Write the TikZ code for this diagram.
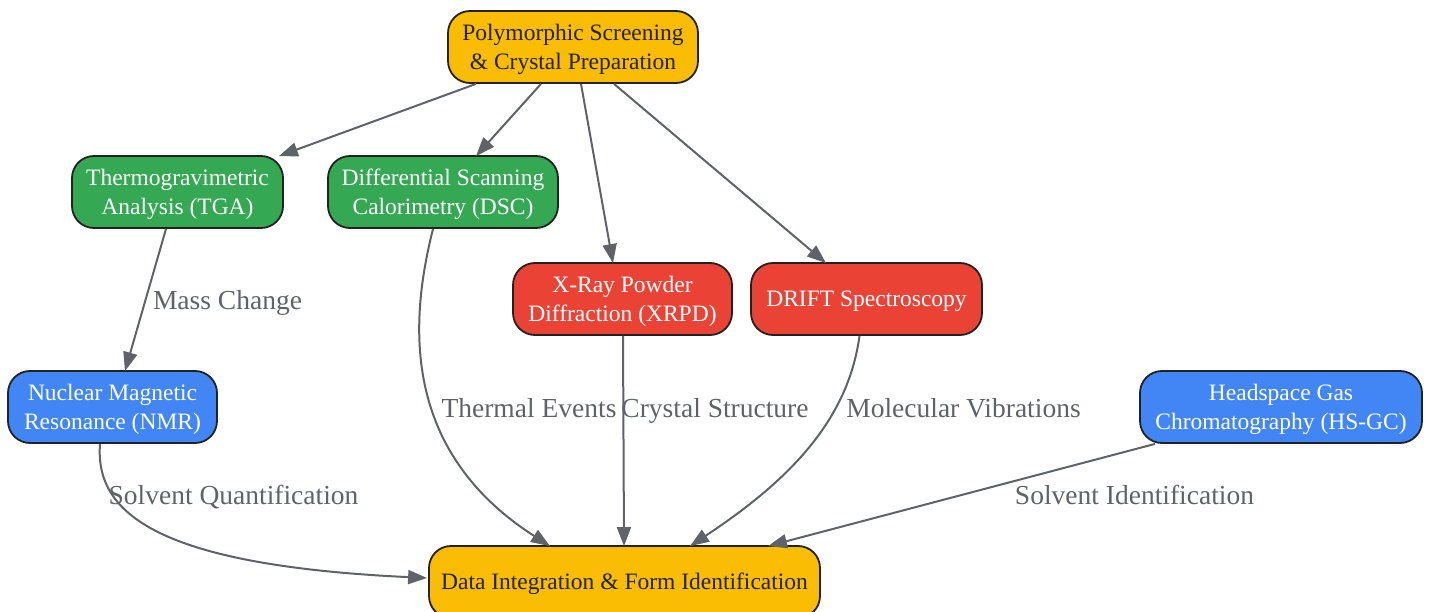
\documentclass[tikz,border=0pt]{standalone}
\usepackage{fontspec}
\setmainfont{Liberation Serif}
\usetikzlibrary{arrows.meta,calc}
\definecolor{gyellow}{HTML}{FBBC04}
\definecolor{ggreen}{HTML}{34A853}
\definecolor{gred}{HTML}{EA4335}
\definecolor{gblue}{HTML}{4285F4}
\definecolor{edgegray}{HTML}{5F6368}
\definecolor{labelgray}{HTML}{5F6368}
\definecolor{bordercol}{HTML}{222222}
\newcommand\tstrut{\rule[-5pt]{0pt}{26pt}}
\newcommand\bstrut{\rule[-5pt]{0pt}{0pt}}
\begin{document}
\begin{tikzpicture}[x=1pt,y=-1pt,
  box/.style={draw=bordercol,line width=1.8pt,rounded corners=22pt,inner sep=0pt,
    minimum height=72pt,align=center,font=\fontsize{23.5}{28.5}\selectfont},
  yellowbox/.style={box,fill=gyellow,text=bordercol},
  greenbox/.style={box,fill=ggreen,text=white},
  redbox/.style={box,fill=gred,text=white},
  bluebox/.style={box,fill=gblue,text=white},
  conn/.style={draw=edgegray,line width=2pt,-{Triangle[length=19pt,width=14pt]}},
  elabel/.style={text=labelgray,font=\fontsize{27.5}{30}\selectfont,inner sep=0pt,
    text height=24pt,text depth=5.8pt}
]
\useasboundingbox (0,0) rectangle (1429,612);
\clip (0,0) rectangle (1429,612);

\node[yellowbox,minimum width=250pt] (top) at (573,47) {\tstrut Polymorphic Screening\\\bstrut\& Crystal Preparation};
\node[greenbox,minimum width=211pt] (tga) at (177.5,192) {\tstrut Thermogravimetric\\\bstrut Analysis (TGA)};
\node[greenbox,minimum width=230pt] (dsc) at (443,192) {\tstrut Differential Scanning\\\bstrut Calorimetry (DSC)};
\node[redbox,minimum width=219pt] (xrpd) at (622.5,299) {\tstrut X-Ray Powder\\\bstrut Diffraction (XRPD)};
\node[redbox,minimum width=231pt] (drift) at (866.5,299) {\tstrut DRIFT Spectroscopy};
\node[bluebox,minimum width=209pt] (nmr) at (112.5,407) {\tstrut Nuclear Magnetic\\\bstrut Resonance (NMR)};
\node[bluebox,minimum width=282pt] (hsgc) at (1281,407) {\tstrut Headspace Gas\\\bstrut Chromatography (HS-GC)};
\node[yellowbox,minimum width=391pt] (bottom) at (624.5,582) {\tstrut Data Integration \& Form Identification};

% edges from top
\draw[conn] ([xshift=-97pt]top.south) -- ([xshift=-5pt,yshift=-1pt]tga.north east);
\draw[conn] ([xshift=-32pt]top.south) -- ([xshift=33pt,yshift=-1pt]dsc.north);
\draw[conn] ([xshift=8pt]top.south) -- ([xshift=-9.5pt,yshift=-1pt]xrpd.north);
\draw[conn] ([xshift=41pt]top.south) -- ([xshift=-40.5pt,yshift=-1pt]drift.north);

% TGA -> NMR
\draw[conn] ([xshift=-11.5pt]tga.south) -- ([xshift=12.5pt,yshift=-1pt]nmr.north);
\node[elabel] (lmass) at (227.5,300) {Mass Change};

% DSC -> bottom
\draw[conn] ([xshift=-10pt]dsc.south) .. controls (410,320) and (400,450) .. ([xshift=-74.5pt,yshift=-1pt]bottom.north);
\node[elabel] (ltherm) at (529,408) {Thermal Events};

% XRPD -> bottom
\draw[conn] ([xshift=0.5pt]xrpd.south) -- ([xshift=-0.5pt,yshift=-1pt]bottom.north);
\node[elabel] (lcryst) at (715,408) {Crystal Structure};

% DRIFT -> bottom
\draw[conn] ([xshift=-7pt]drift.south) .. controls (848,420) and (790,480) .. ([xshift=65.5pt,yshift=-1pt]bottom.north);
\node[elabel] (lmol) at (963.5,408) {Molecular Vibrations};

% NMR -> bottom
\draw[conn] ([xshift=-12.5pt]nmr.south) .. controls (95,510) and (150,565) .. ([xshift=-1pt,yshift=4pt]bottom.west);
\node[elabel] (lquant) at (233.5,495) {Solvent Quantification};

% HS-GC -> bottom
\draw[conn] ([xshift=-126pt]hsgc.south) -- ([xshift=143.5pt,yshift=-1pt]bottom.north);
\node[elabel] (lident) at (1134.5,495) {Solvent Identification};
\end{tikzpicture}
\end{document}
